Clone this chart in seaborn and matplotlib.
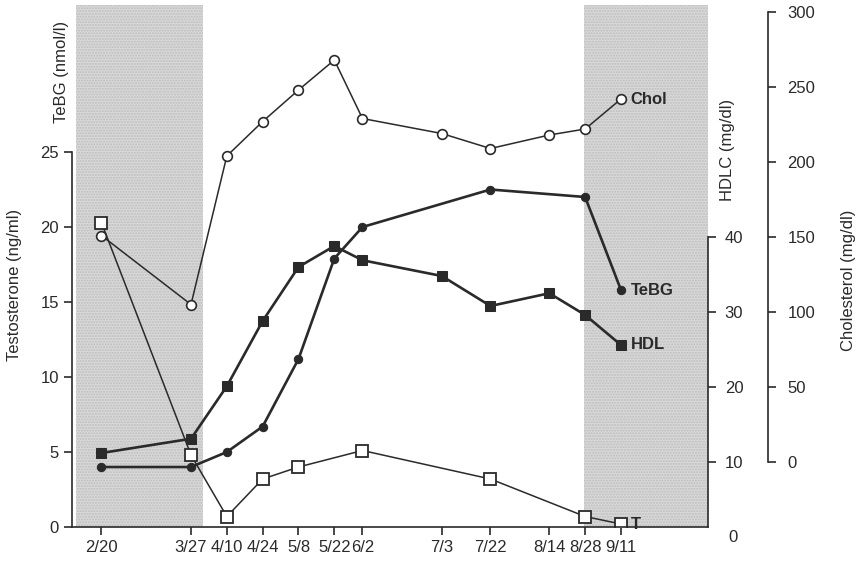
import matplotlib
matplotlib.use("Agg")
import matplotlib.pyplot as plt
import matplotlib.transforms as mtransforms
import seaborn as sns
import pandas as pd

# --- DATA ---
dates = ["2/20", "3/27", "4/10", "4/24", "5/8", "5/22", "6/2", "7/3", "7/22", "8/14", "8/28", "9/11"]
day_of_year = [51, 86, 100, 114, 128, 142, 153, 184, 203, 226, 240, 254]

# testosterone (ng/ml) -- open squares
t_dates = ["2/20", "3/27", "4/10", "4/24", "5/8", "6/2", "7/22", "8/28", "9/11"]
t_vals = [20.3, 4.8, 0.7, 3.2, 4.0, 5.1, 3.2, 0.7, 0.2]

# TeBG (nmol/l) -- filled circles
tebg_dates = ["2/20", "3/27", "4/10", "4/24", "5/8", "5/22", "6/2", "7/22", "8/28", "9/11"]
tebg_vals = [4.0, 4.0, 5.0, 6.7, 11.2, 17.9, 20.0, 22.5, 22.0, 15.8]

# HDL cholesterol (mg/dl) -- filled squares
hdl_dates = dates
hdl_vals = [11.2, 13.1, 20.1, 28.8, 36.0, 38.8, 36.9, 34.8, 30.8, 32.5, 29.6, 25.6]

# total cholesterol (mg/dl) -- open circles
chol_dates = dates
chol_vals = [151, 105, 204, 227, 248, 268, 229, 219, 209, 218, 222, 242]

# treatment-free periods (shaded)
shade_periods = [(41, 90.5), (239.5, 288)]

day_map = dict(zip(dates, day_of_year))

def frame(ds, vs):
    return pd.DataFrame({"day": [day_map[d] for d in ds], "value": vs})

df_t = frame(t_dates, t_vals)
df_tebg = frame(tebg_dates, tebg_vals)
df_hdl = frame(hdl_dates, hdl_vals)
df_chol = frame(chol_dates, chol_vals)

# --- STYLE ---
sns.set_style("white")
plt.rcParams.update({
    "font.family": ["Liberation Sans", "DejaVu Sans"],
    "font.size": 12,
    "xtick.labelsize": 12,
    "ytick.labelsize": 12,
    "axes.linewidth": 1.2,
    "xtick.major.size": 6,
    "ytick.major.size": 6,
    "xtick.major.width": 1.2,
    "ytick.major.width": 1.2,
})

INK = "#2a2a2a"

fig = plt.figure(figsize=(8.61, 5.69), dpi=100)
ax = fig.add_axes([0.0836, 0.0738, 0.7387, 0.9174])
ax_hdl = ax.twinx()
ax_chol = ax.twinx()

for lo, hi in shade_periods:
    ax.axvspan(lo, hi, facecolor="#d9d9d9", edgecolor="#bdbdbd", hatch="......", linewidth=0, zorder=0)

# --- SERIES ---
sns.lineplot(data=df_tebg, x="day", y="value", ax=ax, color=INK, linewidth=1.9,
             marker="o", markersize=6, markerfacecolor=INK, markeredgecolor=INK)
sns.lineplot(data=df_t, x="day", y="value", ax=ax, color=INK, linewidth=1.1,
             marker="s", markersize=8, markerfacecolor="white", markeredgecolor=INK, markeredgewidth=1.3)
sns.lineplot(data=df_hdl, x="day", y="value", ax=ax_hdl, color=INK, linewidth=1.9,
             marker="s", markersize=7, markerfacecolor=INK, markeredgecolor=INK)
sns.lineplot(data=df_chol, x="day", y="value", ax=ax_chol, color=INK, linewidth=1.1,
             marker="o", markersize=7, markerfacecolor="white", markeredgecolor=INK, markeredgewidth=1.2)

# end labels
last = day_map["9/11"]
ax_chol.annotate("Chol", (last, chol_vals[-1]), xytext=(7, 0), textcoords="offset points",
                 va="center", fontsize=12, color=INK, fontweight="bold")
ax.annotate("TeBG", (last, tebg_vals[-1]), xytext=(7, 0), textcoords="offset points",
            va="center", fontsize=12, color=INK, fontweight="bold")
ax_hdl.annotate("HDL", (last, hdl_vals[-1]), xytext=(7, 0), textcoords="offset points",
                va="center", fontsize=12, color=INK, fontweight="bold")
ax.annotate("T", (last, t_vals[-1]), xytext=(7, 0), textcoords="offset points",
            va="center", fontsize=12, color=INK, fontweight="bold")

# --- AXES ---
ax.set_xlim(39.5, 288)
ax.set_xticks(day_of_year)
ax.set_xticklabels(dates)

ax.set_ylim(0, 34.8)
ax.set_yticks([0, 5, 10, 15, 20, 25])
ax.spines["left"].set_bounds(0, 25)
ax.spines["top"].set_visible(False)
ax.spines["right"].set_visible(False)
ax.tick_params(axis="both", direction="out", colors=INK, left=True, bottom=True)
ax.set_xlabel("")
ax.set_ylabel("")

# HDLC scale sits slightly lower than the bottom axis (its 0 is below the baseline)
ax_hdl.set_ylim(1.333, 70.93)
ax_hdl.set_yticks([10, 20, 30, 40])
ax_hdl.spines["right"].set_bounds(1.333, 40)
for s in ["top", "left", "bottom"]:
    ax_hdl.spines[s].set_visible(False)
ax_hdl.tick_params(axis="y", direction="out", colors=INK, right=True, pad=6)
ax_hdl.set_ylabel("")
hdl_trans = mtransforms.blended_transform_factory(ax_hdl.transAxes, ax_hdl.transData)
ax_hdl.text(1.0 + 20 / 636, 0, "0", transform=hdl_trans, ha="left", va="center",
            fontsize=12, color=INK, clip_on=False)

ax_chol.set_ylim(-43.33, 304.67)
ax_chol.set_yticks([0, 50, 100, 150, 200, 250, 300])
ax_chol.spines["right"].set_position(("axes", 1.0943))
ax_chol.spines["right"].set_bounds(0, 300)
for s in ["top", "left", "bottom"]:
    ax_chol.spines[s].set_visible(False)
ax_chol.tick_params(axis="y", direction="out", colors=INK, right=True, pad=8)
ax_chol.set_ylabel("")

for a in (ax, ax_hdl, ax_chol):
    for s in a.spines.values():
        s.set_color(INK)

fig.text(0.0174, 0.499, "Testosterone (ng/ml)", rotation=90, ha="center", va="center", fontsize=12, color=INK)
fig.text(0.072, 0.873, "TeBG (nmol/l)", rotation=90, ha="center", va="center", fontsize=12, color=INK)
fig.text(0.8455, 0.736, "HDLC (mg/dl)", rotation=90, ha="center", va="center", fontsize=12, color=INK)
fig.text(0.985, 0.508, "Cholesterol (mg/dl)", rotation=90, ha="center", va="center", fontsize=12, color=INK)

fig.savefig("out.png", dpi=100)
